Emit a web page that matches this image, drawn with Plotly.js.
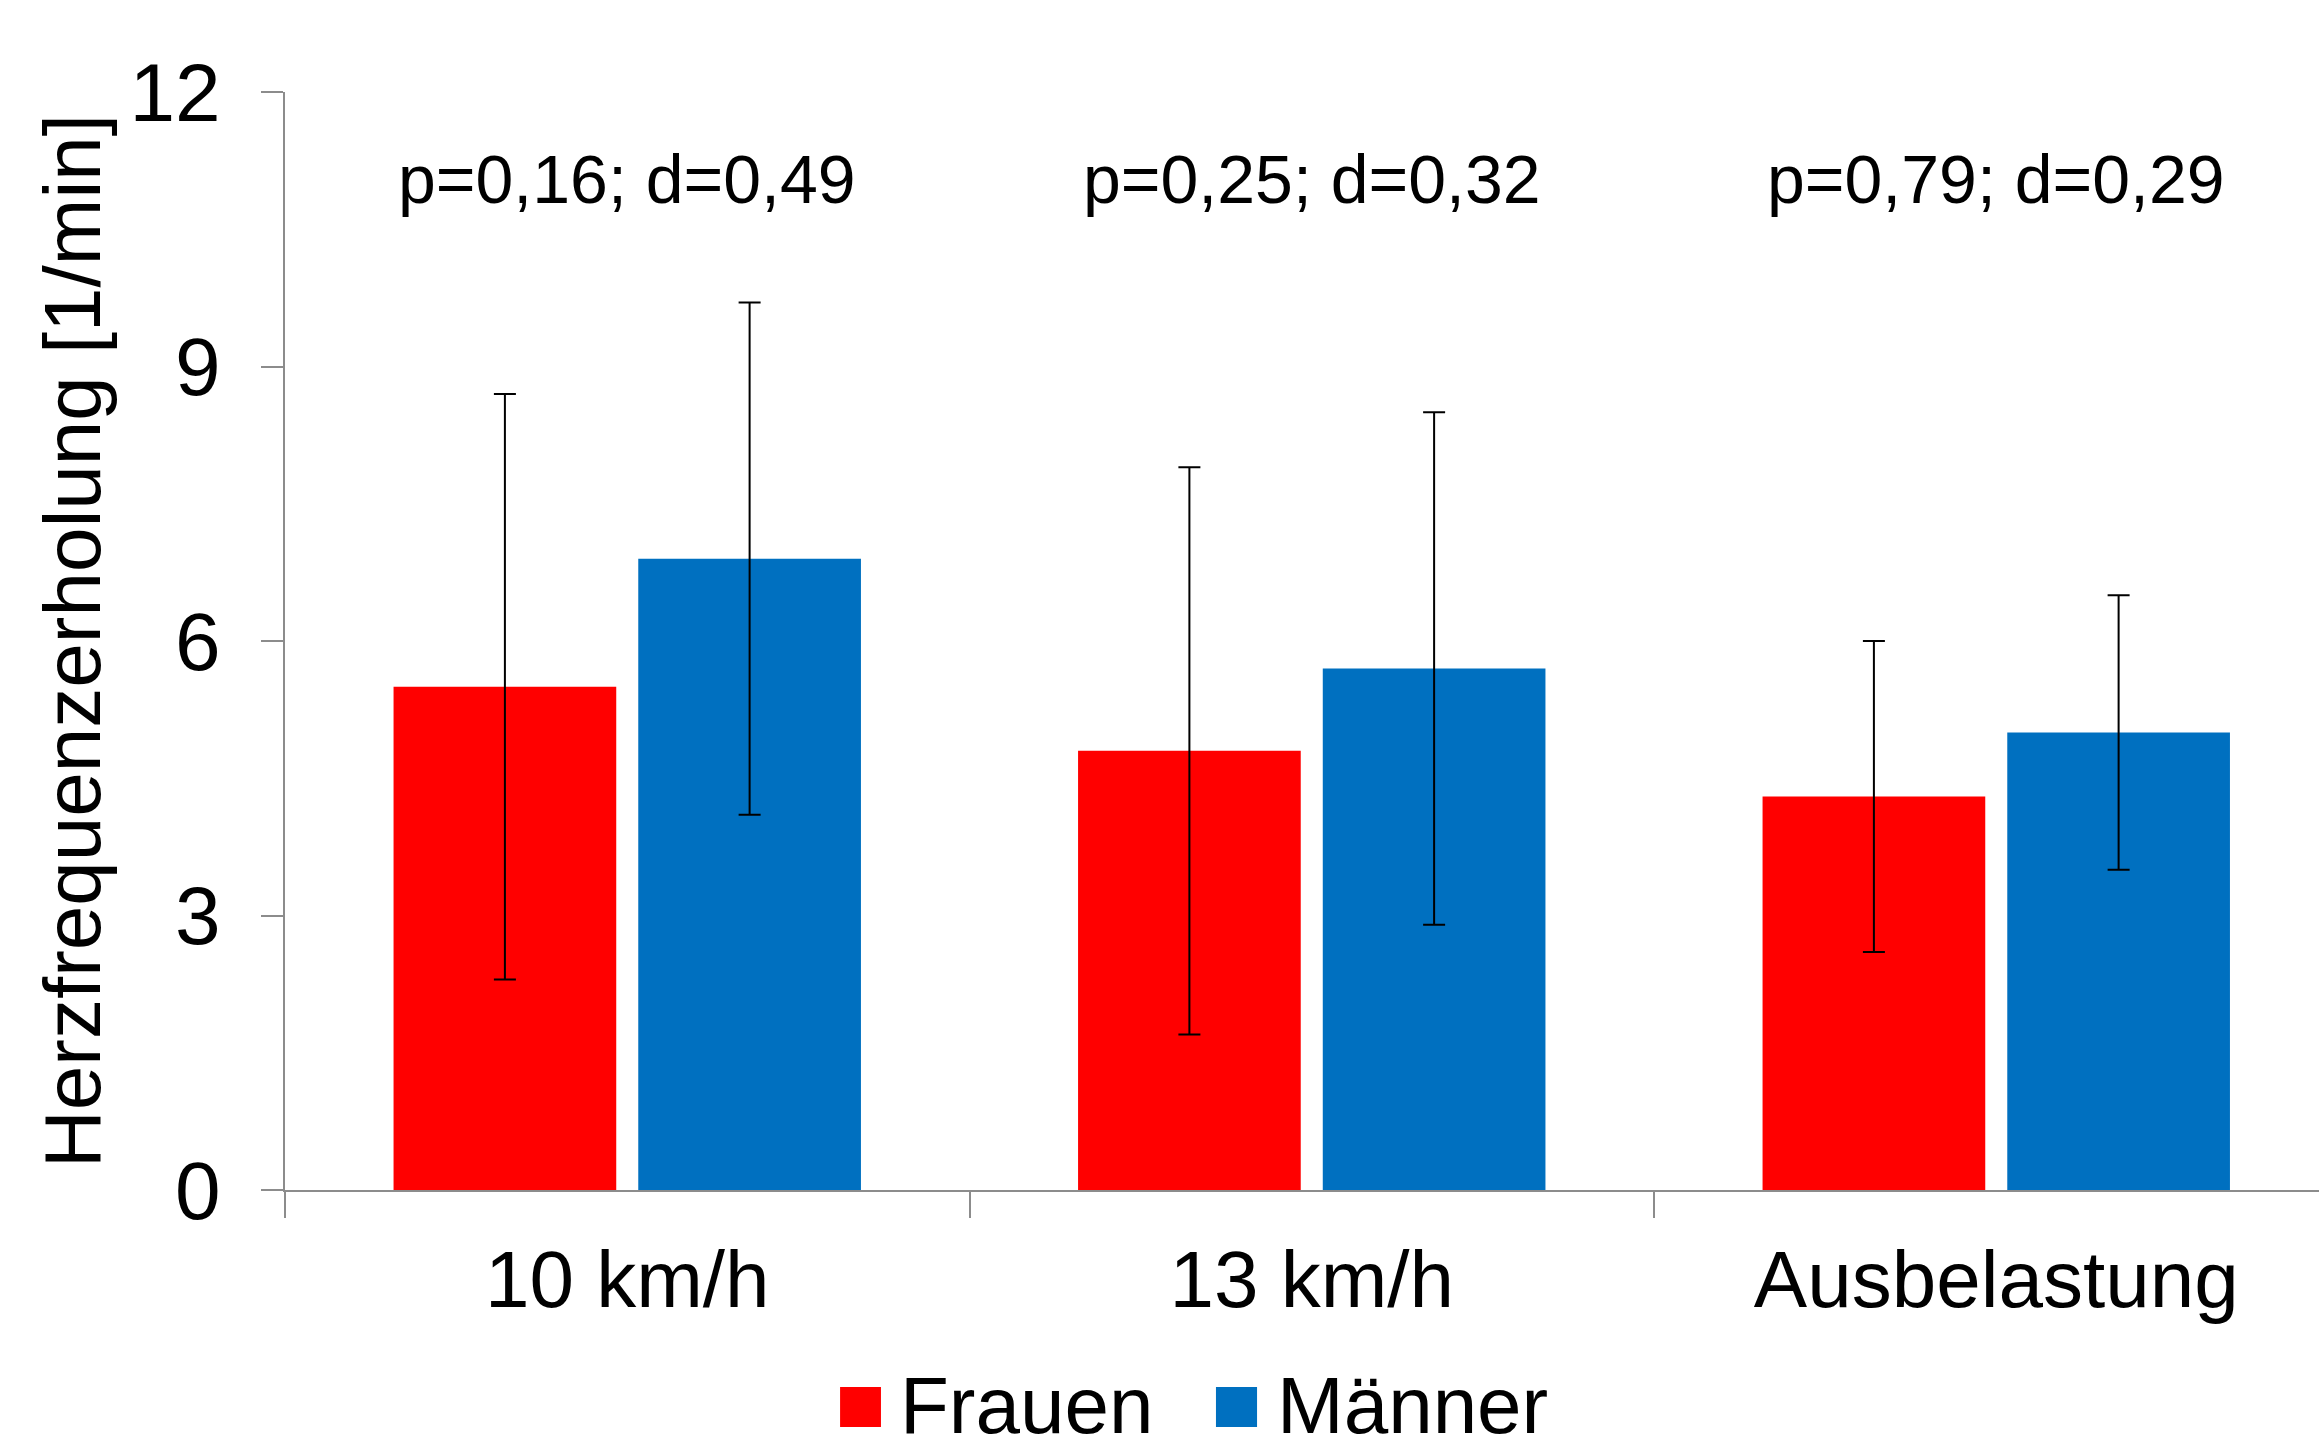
<!DOCTYPE html>
<html><head><meta charset="utf-8">
<script src="https://cdn.plot.ly/plotly-3.0.1.min.js"></script>
<style>html,body{margin:0;padding:0;background:#fff;}</style>
</head><body>
<div id="chart" style="width:2319px;height:1453px;"></div>
<script>
const categories = ["10 km/h", "13 km/h", "Ausbelastung"];
const frauenMean = [5.5, 4.8, 4.3];
const frauenSD = [3.2, 3.1, 1.7];
const maennerMean = [6.9, 5.7, 5.0];
const maennerSD = [2.8, 2.8, 1.5];
const statsLabels = ["p=0,16; d=0,49", "p=0,25; d=0,32", "p=0,79; d=0,29"];
const seriesNames = ["Frauen", "Männer"];
const seriesColors = ["#FF0000", "#0070C0"];
const yTicks = [0, 3, 6, 9, 12];

const FONT = "Liberation Sans, Arial, sans-serif";
const errStyle = {type: "data", visible: true, color: "#000000", thickness: 2, width: 11};

const traces = [
  {type: "bar", name: seriesNames[0], x: categories, y: frauenMean,
   marker: {color: seriesColors[0]},
   error_y: Object.assign({array: frauenSD}, errStyle)},
  {type: "bar", name: seriesNames[1], x: categories, y: maennerMean,
   marker: {color: seriesColors[1]},
   error_y: Object.assign({array: maennerSD}, errStyle)}
];

const annotations = categories.map((c, i) => ({
  x: c, y: 11.05, xref: "x", yref: "y", text: statsLabels[i], showarrow: false,
  xanchor: "center", yanchor: "middle",
  font: {family: FONT, size: 68, color: "#000"}
}));

// Legend drawn as paper-referenced key (squares + labels) below the plot
const legendTextX = [0.3014, 0.4867];
const legendKeyX = [[0.2729, 0.2930], [0.4577, 0.4779]];
const legendY = -0.1967;
const shapes = [];
seriesNames.forEach((n, i) => {
  annotations.push({x: legendTextX[i], y: legendY, xref: "paper", yref: "paper", text: n,
    showarrow: false, xanchor: "left", yanchor: "middle",
    font: {family: FONT, size: 80, color: "#000"}});
  shapes.push({type: "rect", xref: "paper", yref: "paper",
    x0: legendKeyX[i][0], x1: legendKeyX[i][1], y0: -0.2158, y1: -0.1794,
    fillcolor: seriesColors[i], line: {width: 0}});
});

const layout = {
  width: 2319, height: 1453,
  margin: {l: 285, r: 0, t: 92, b: 263, pad: 0, autoexpand: false},
  paper_bgcolor: "#fff", plot_bgcolor: "#fff",
  font: {family: FONT, color: "#000"},
  barmode: "group", bargap: 0.285, bargroupgap: 0.09,
  showlegend: false,
  xaxis: {type: "category", range: [-0.5, 2.4715], autorange: false, automargin: false,
          showline: true, linecolor: "#8c8c8c", linewidth: 2,
          ticks: "outside", tickson: "boundaries", ticklen: 26, tickwidth: 2, tickcolor: "#8c8c8c",
          tickfont: {family: FONT, size: 80, color: "#000"}, ticklabelstandoff: 19,
          showgrid: false, zeroline: false, fixedrange: true},
  yaxis: {range: [0, 12], autorange: false, automargin: false, tickvals: yTicks, ticktext: yTicks.map(String),
          showline: true, linecolor: "#8c8c8c", linewidth: 2,
          ticks: "outside", ticklen: 22, tickwidth: 2, tickcolor: "#8c8c8c",
          tickfont: {family: FONT, size: 82, color: "#000"}, ticklabelstandoff: 24,
          showgrid: false, zeroline: false,
          title: {text: "Herzfrequenzerholung [1/min]", font: {family: FONT, size: 80, color: "#000"}, standoff: 2}},
  annotations: annotations,
  shapes: shapes
};

Plotly.newPlot("chart", traces, layout, {displayModeBar: false, staticPlot: true});
</script>
</body></html>
